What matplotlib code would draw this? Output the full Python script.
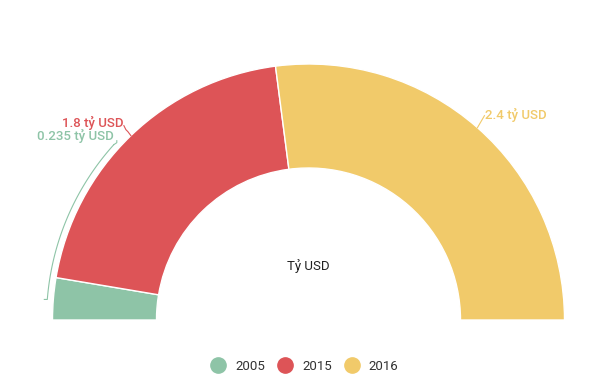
import numpy as np
import matplotlib.pyplot as plt
from matplotlib.lines import Line2D

plt.rcParams['font.family'] = ['Roboto', 'DejaVu Sans']

years = ['2005', '2015', '2016']
values = [0.235, 1.8, 2.4]
value_labels = ['0.235 tỷ USD', '1.8 tỷ USD', '2.4 tỷ USD']
colors = ['#8ec4a7', '#dd5457', '#f1ca6a']

W, H = 610, 384
fig = plt.figure(figsize=(W / 100, H / 100), dpi=100)
ax = fig.add_axes([0, 0, 1, 1])

# half donut: pad with an invisible slice equal to the total
cx, cy = 308.5, 64
r_out, r_in = 256, 152
total = sum(values)
wedges, _ = ax.pie(values + [total], colors=colors + ['none'], startangle=180,
                   counterclock=False, center=(cx, cy), radius=r_out,
                   wedgeprops=dict(width=r_out - r_in, edgecolor='white', linewidth=1))
wedges[-1].set_edgecolor('none')

ax.set_xlim(0, W)
ax.set_ylim(0, H)
ax.set_aspect('equal')
ax.axis('off')

# slice mid angles (deg, counterclockwise from +x)
bounds = 180 - 180 * np.cumsum([0] + values) / total
mids = (bounds[:-1] + bounds[1:]) / 2

def on_arc(ang, r):
    a = np.deg2rad(ang)
    return cx + r * np.cos(a), cy + r * np.sin(a)

lab_kw = dict(fontsize=9.5, fontweight='medium', va='center')

# 2016 label
x0, y0 = on_arc(mids[2], r_out)
ax.plot([x0, x0 + 7], [y0, y0 + 12], color=colors[2], lw=0.8)
ax.text(x0 + 8, y0 + 13, value_labels[2], color=colors[2], ha='left', **lab_kw)

# 2015 label
x0, y0 = on_arc(mids[1], r_out)
ax.plot([x0, x0 - 3, x0 - 5, x0 - 7], [y0, y0 + 4, y0 + 6, y0 + 10],
        color=colors[1], lw=0.8)
ax.text(x0 - 7, y0 + 13, value_labels[1], color=colors[1], ha='right', **lab_kw)

# 2005 label, pushed up along the arc
angs = np.linspace(175.5, 138, 60)
bx, by = on_arc(angs, r_out + 6)
ax.plot(np.r_[bx[0] - 3, bx], np.r_[by[0], by], color=colors[0], lw=0.8)
ax.plot([bx[-1], bx[-1] + 3, bx[-1] + 3], [by[-1], by[-1] + 2, by[-1] + 4],
        color=colors[0], lw=0.8)
ax.text(bx[-1] + 0, by[-1] + 9, value_labels[0], color=colors[0], ha='right', **lab_kw)

ax.text(cx, H - 266, 'Tỷ USD', color='#222222', fontsize=9.5,
        ha='center', va='center')

handles = [Line2D([], [], marker='o', ls='none', markersize=11,
                  markerfacecolor=c, markeredgecolor=c) for c in colors]
fig.legend(handles, years, loc='center', bbox_to_anchor=(0.5, 1 - 366 / H),
           ncol=3, frameon=False, fontsize=9.5, handlelength=1.0,
           handletextpad=0.8, columnspacing=1.0, labelcolor='#333333')

fig.savefig('out.png', dpi=100)
